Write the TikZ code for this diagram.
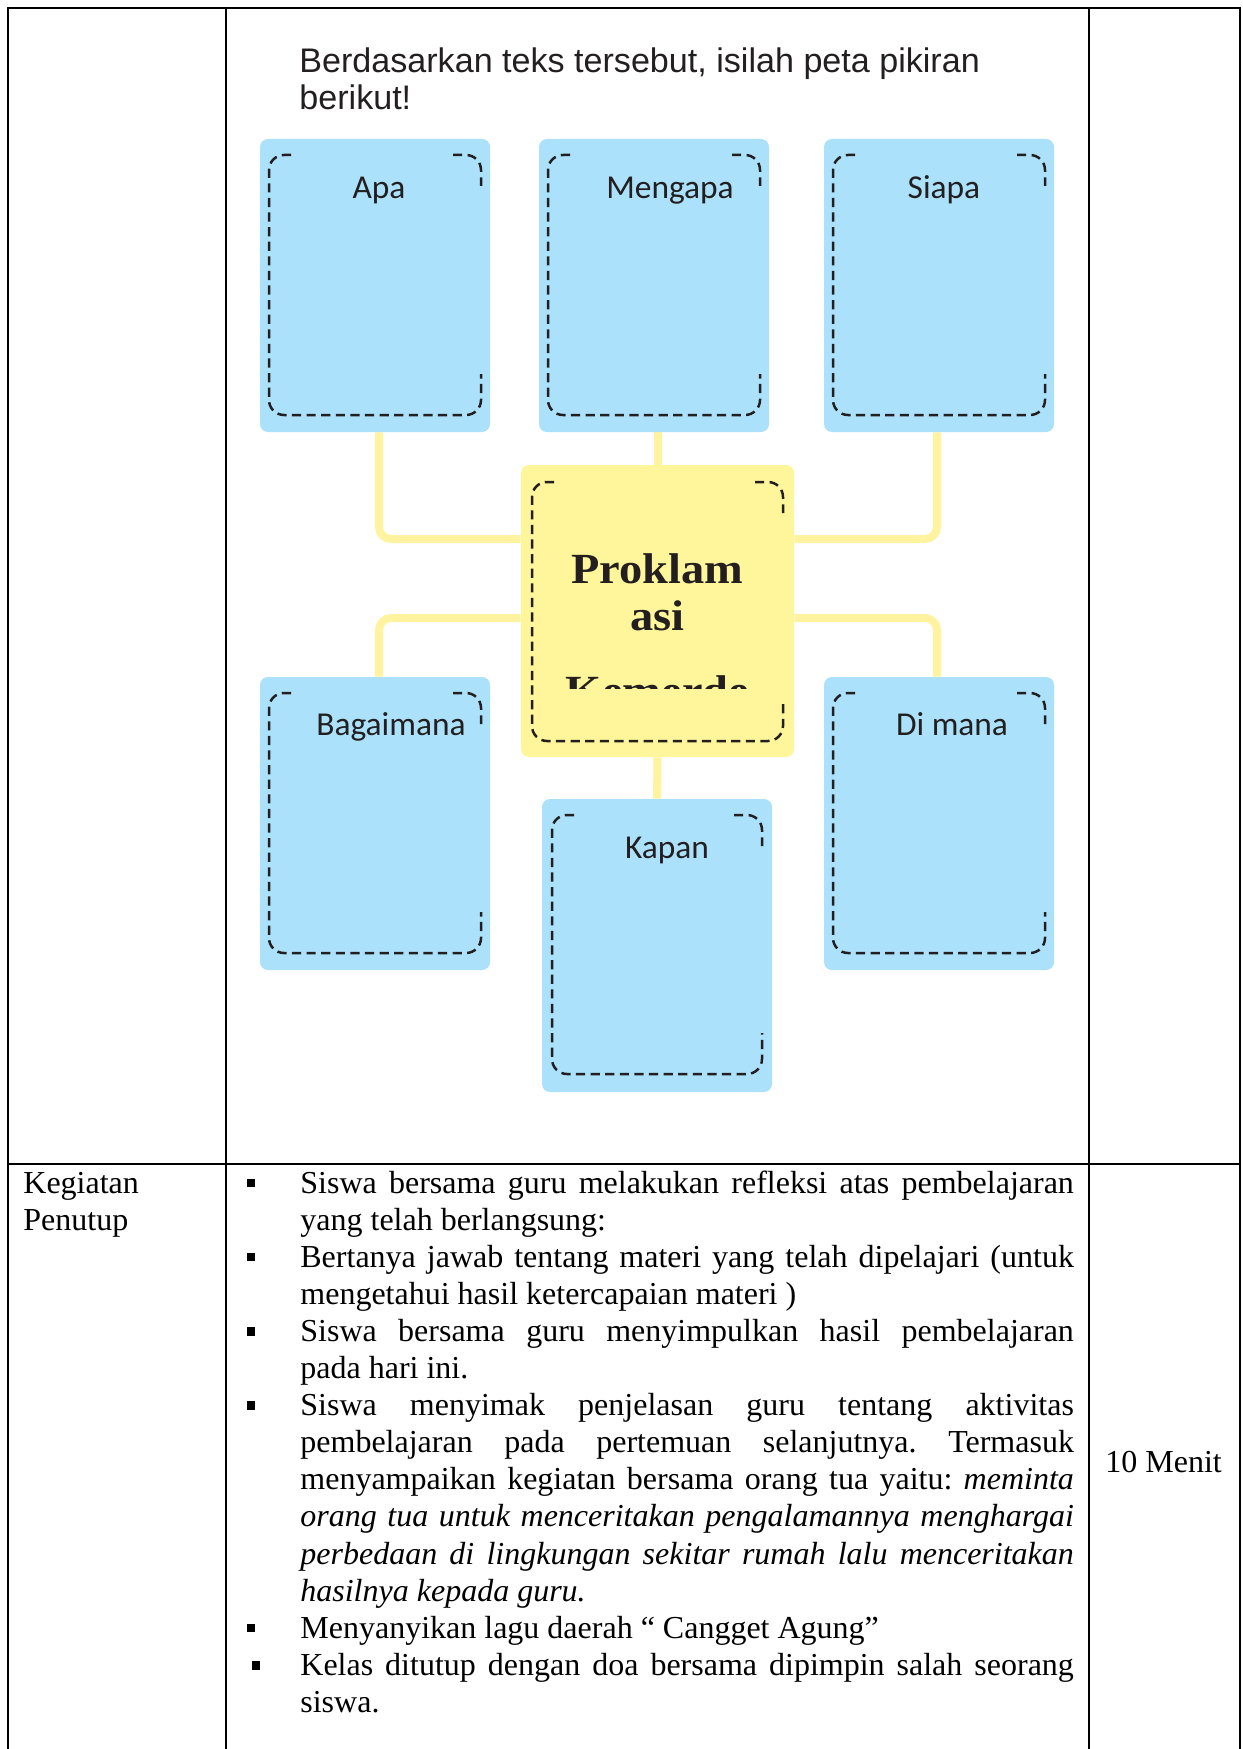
\documentclass[tikz,border=0pt]{standalone}
\usepackage{fontspec}
\usepackage{graphicx}
\setmainfont{Liberation Serif}
\newfontfamily\labfont{Carlito}
\newfontfamily\hdrfont{Liberation Sans}
\definecolor{boxblue}{RGB}{171,225,250}
\definecolor{boxyel}{RGB}{255,245,155}
\definecolor{lnyel}{RGB}{255,243,160}
\definecolor{ink}{RGB}{35,31,32}
\pgfdeclarelayer{bg}
\pgfsetlayers{bg,main}
\frenchspacing
\newcommand\dfr[4]{%
  \draw[frame] ({#1+22},#2) -- (#1,#2) -- (#1,#4) -- (#3,#4) -- (#3,{#4-41});
  \draw[frame] ({#3-28},#2) -- (#3,#2) -- (#3,{#2+31});
}
\newcommand\jl[1]{\makebox[386.75pt][s]{#1}}
\tikzset{
  frame/.style={draw=ink, line width=1.25pt, dash pattern=on 4.6pt off 2.7pt, rounded corners=7.5pt},
  bbox/.style={fill=boxblue, rounded corners=4pt, minimum width=115pt, minimum height=146.5pt, inner sep=0pt, draw=none},
  ybox/.style={fill=boxyel, rounded corners=4pt, minimum width=136.5pt, minimum height=146pt, inner sep=0pt, draw=none},
  conn/.style={draw=lnyel, line width=4pt, rounded corners=6pt},
  lab/.style={font=\labfont\fontsize{16.7}{19}\selectfont, text=ink, anchor=base, inner sep=0pt},
  hdr/.style={font=\hdrfont\fontsize{17.05}{20}\selectfont, text=ink, anchor=base west, inner sep=0pt},
  ctext/.style={font=\bfseries\fontsize{21.5}{24}\selectfont, text=ink, anchor=base, inner sep=0pt},
  tline/.style={line width=1pt, draw=black},
  tx/.style={font=\fontsize{16}{18.5}\selectfont, anchor=base west, inner sep=0pt},
  bul/.style={fill=black, minimum size=4.2pt, inner sep=0pt, draw=none},
}
\begin{document}
\begin{tikzpicture}[x=0.5pt, y=-0.5pt]
\useasboundingbox (0,0) rectangle (1242,1749);
% table
\draw[tline] (8,1749) -- (8,8) -- (1240,8) -- (1240,1749);
\draw[tline] (226,8) -- (226,1749);
\draw[tline] (1089,8) -- (1089,1749);
\draw[tline] (8,1164) -- (1240,1164);
% header
\node[hdr] (h1) at (299,72.5) {Berdasarkan teks tersebut, isilah peta pikiran};
\node[hdr] (h2) at (299,109.5) {berikut!};
% boxes
\node[bbox] (apa) at (375,285.5) {};
\node[bbox] (meng) at (654,285.5) {};
\node[bbox] (siapa) at (939,285.5) {};
\node[bbox] (bag) at (375,823.5) {};
\node[bbox] (dim) at (939,823.5) {};
\node[bbox] (kapan) at (657,945.5) {};
\node[ybox] (cen) at (657.5,611) {};
% connectors
\begin{pgfonlayer}{bg}
\draw[conn] ([xshift=2pt]apa.south) |- ([yshift=36pt]cen.west);
\draw[conn] ([xshift=-1pt]siapa.south) |- ([yshift=36pt]cen.east);
\draw[conn] ([yshift=-3.5pt]cen.west) -| ([xshift=2pt]bag.north);
\draw[conn] ([yshift=-3.5pt]cen.east) -| ([xshift=-1pt]dim.north);
\draw[conn] (cen.north |- meng.south) -- (cen.north);
\draw[conn] (cen.south) -- (kapan.north);
\end{pgfonlayer}
% dashed frames
\dfr{269}{155}{481}{415}
\dfr{548}{155}{760}{415}
\dfr{833}{155}{1045}{415}
\dfr{269}{693}{481}{953}
\dfr{833}{693}{1045}{953}
\dfr{552}{815}{762}{1074}
\dfr{532}{482}{783}{741}
% labels
\node[lab] (tapa) at (379,198.5) {Apa};
\node[lab] (tmeng) at (670,198.5) {Mengapa};
\node[lab] (tsiapa) at (944,198.5) {Siapa};
\node[lab] (tbag) at (391,735.5) {Bagaimana};
\node[lab] (tdim) at (952,735.5) {Di mana};
\node[lab] (tkapan) at (667,858) {Kapan};
% center text
\node[ctext] (c1) at (657.5,583) {\scalebox{1.08}[1]{Proklam}};
\node[ctext] (c2) at (657.5,630) {\scalebox{1.08}[1]{asi}};
\begin{scope}
\clip (521,670) rectangle (794,688);
\node[ctext] (c3) at (657.5,705) {\scalebox{1.08}[1]{Kemerde}};
\end{scope}
% lower row
\node[tx] (k1) at (23,1193) {Kegiatan};
\node[tx] (k2) at (23,1230.1) {Penutup};
\node[tx] (wkt) at (1105,1472) {10 Menit};
\node[bul] (b1) at (251,1183) {};
\node[bul] (b2) at (251,1257.2) {};
\node[bul] (b3) at (251,1331.4) {};
\node[bul] (b4) at (251,1405.6) {};
\node[bul] (b5) at (251,1628.2) {};
\node[bul] (b6) at (256,1665.3) {};
\node[tx] (l1) at (300,1193) {\jl{Siswa bersama guru melakukan refleksi atas pembelajaran}};
\node[tx] (l2) at (300,1230.1) {yang telah berlangsung:};
\node[tx] (l3) at (300,1267.2) {\jl{Bertanya jawab tentang materi yang telah dipelajari (untuk}};
\node[tx] (l4) at (300,1304.3) {mengetahui hasil ketercapaian materi )};
\node[tx] (l5) at (300,1341.4) {\jl{Siswa bersama guru menyimpulkan hasil pembelajaran}};
\node[tx] (l6) at (300,1378.5) {pada hari ini.};
\node[tx] (l7) at (300,1415.6) {\jl{Siswa menyimak penjelasan guru tentang aktivitas}};
\node[tx] (l8) at (300,1452.7) {\jl{pembelajaran pada pertemuan selanjutnya. Termasuk}};
\node[tx] (l9) at (300,1489.8) {\jl{menyampaikan kegiatan bersama orang tua yaitu: \textit{meminta}}};
\node[tx] (l10) at (300,1526.9) {\jl{\itshape orang tua untuk menceritakan pengalamannya menghargai}};
\node[tx] (l11) at (300,1564) {\jl{\itshape perbedaan di lingkungan sekitar rumah lalu menceritakan}};
\node[tx] (l12) at (300,1601.1) {\textit{hasilnya kepada guru.}};
\node[tx] (l13) at (300,1638.2) {Menyanyikan lagu daerah “ Cangget Agung”};
\node[tx] (l14) at (300,1675.3) {\jl{Kelas ditutup dengan doa bersama dipimpin salah seorang}};
\node[tx] (l15) at (300,1712.4) {siswa.};
\end{tikzpicture}
\end{document}
